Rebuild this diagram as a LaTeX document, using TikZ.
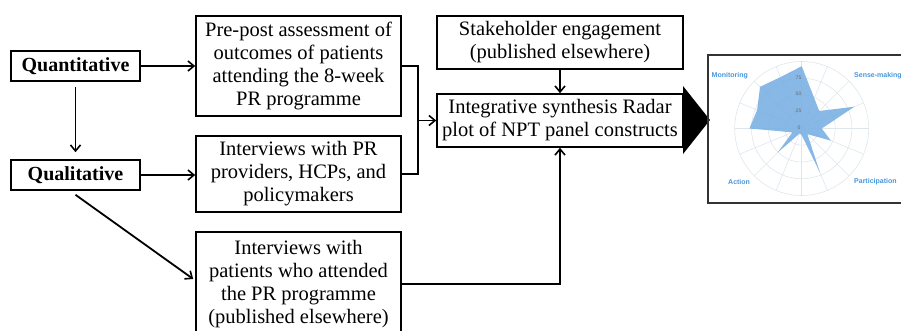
\documentclass[tikz,border=0pt]{standalone}
\usepackage{fontspec}
\setmainfont{Liberation Serif}
\newfontfamily\radarfont{Liberation Sans}
\usetikzlibrary{arrows.meta,calc}
\definecolor{radarblue}{RGB}{70,150,220}
\definecolor{radarfill}{RGB}{125,178,228}
\definecolor{gridgray}{RGB}{222,230,236}
\definecolor{tickgray}{RGB}{105,105,105}
\begin{document}
\begin{tikzpicture}[x=1pt,y=-1pt,
  box/.style={draw,line width=1.6pt,align=center,inner sep=0pt,font=\fontsize{20.5}{23}\selectfont},
  arr/.style={line width=1.8pt,-{Straight Barb[length=6pt,width=10pt,line width=1.6pt]}},
  ln/.style={line width=1.8pt},
  rlabel/.style={anchor=west,inner sep=0pt,text=radarblue,font=\radarfont\bfseries\fontsize{7}{8}\selectfont},
  tick/.style={inner sep=0pt,text=tickgray,font=\radarfont\fontsize{5}{6}\selectfont}]
\useasboundingbox (0,0) rectangle (901,330);
\clip (0,0) rectangle (901,330);
% boxes
\node[box,minimum width=129pt,minimum height=30pt,font=\bfseries\fontsize{20}{23}\selectfont] (quant) at (75.5,66) {Quantitative};
\node[box,minimum width=129pt,minimum height=30pt,font=\bfseries\fontsize{20}{23}\selectfont] (qual) at (75.5,175) {Qualitative};
\node[box,minimum width=205pt,minimum height=100pt] (pre) at (298.5,66) {Pre-post assessment of\\outcomes of patients\\attending the 8-week\\PR programme};
\node[box,minimum width=205pt,minimum height=76pt] (prov) at (298.5,174) {Interviews with PR\\providers, HCPs, and\\policymakers};
\node[box,minimum width=205pt,minimum height=104pt] (pat) at (298.5,284) {Interviews with\\patients who attended\\the PR programme\\(published elsewhere)};
\node[box,minimum width=246pt,minimum height=53pt] (stake) at (560,42.5) {Stakeholder engagement\\(published elsewhere)};
\node[box,minimum width=246pt,minimum height=53pt] (integ) at (560,120.5) {Integrative synthesis Radar\\plot of NPT panel constructs};
% big arrow head
\fill (683,86) -- (710,120) -- (683,154) -- cycle;
% connectors
\draw[arr] (quant.east) -- (pre.west);
\draw[arr] (qual.east) -- (qual.east -| prov.west);
\draw[arr,shorten <=5pt,shorten >=7pt] (quant.south) -- (qual.north);
\draw[arr] ([yshift=-4pt]qual.south) -- ([yshift=5pt,xshift=-2pt]pat.west);
\coordinate (j) at ($(pre.east)+(16,0)$);
\draw[ln] (pre.east) -- (j) |- (prov.east);
\draw[arr] (integ.west -| j) -- (integ.west);
\draw[arr] (stake.south) -- (integ.north);
\draw[arr] (pat.east) -| (integ.south);
% radar panel
\draw[line width=1.6pt,draw=black!80] (708,55) rectangle (912,203);
\begin{scope}[shift={(801.7,128.5)}]
  \foreach \r in {16.75,33.5,50.25,67}
    \draw[gridgray,line width=0.6pt] (0,0) circle[radius=\r pt];
  \foreach \a in {0,22.5,...,337.5}
    \draw[gridgray,line width=0.6pt] (0,0) -- ({67*sin(\a)},{-67*cos(\a)});
  \fill[radarfill,opacity=0.92] (0,-62.3)
    \foreach \a/\v in {22.5/49,45/37,67.5/85,90/30,112.5/47,135/12,157.5/71,180/10,202.5/8,225/51,247.5/15,270/78,292.5/72,315/88,337.5/83}
    { -- ({0.67*\v*sin(\a)},{-0.67*\v*cos(\a)}) } -- cycle;
\end{scope}
\node[tick] (t0) at (799,128) {0};
\node[tick] (t25) at (798.5,111) {25};
\node[tick] (t50) at (798.5,94) {50};
\node[tick] (t75) at (798.5,77.5) {75};
\node[rlabel] (mon) at (711.5,76) {Monitoring};
\node[rlabel] (sense) at (854,76) {Sense-making};
\node[rlabel] (act) at (728,181.5) {Action};
\node[rlabel] (part) at (854,181.5) {Participation};
\end{tikzpicture}
\end{document}
